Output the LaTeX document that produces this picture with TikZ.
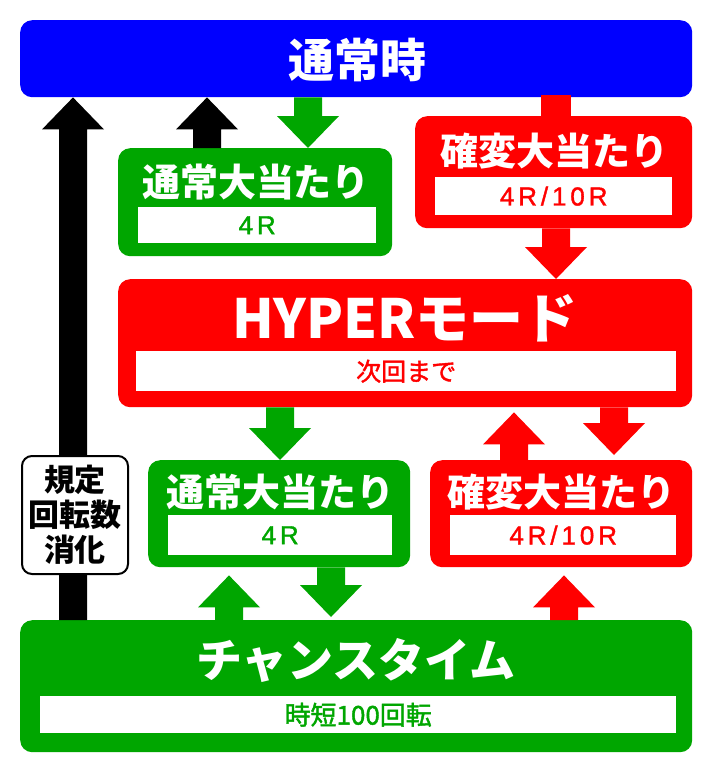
\documentclass[tikz,border=0pt]{standalone}
\usepackage{fontspec}
\setmainfont{Noto Sans CJK JP}
\newfontfamily\jp{Noto Sans CJK JP}
\newfontfamily\lat{Liberation Sans}
\usetikzlibrary{calc}
\definecolor{cblue}{RGB}{0,0,255}
\definecolor{cgreen}{RGB}{0,166,0}
\definecolor{cred}{RGB}{255,0,0}
\tikzset{
  panel/.style={rounded corners=12pt, inner sep=0pt, anchor=north west},
  inbox/.style={fill=white, inner sep=0pt, anchor=north west},
  title/.style={text=white, font=\jp\bfseries\fontsize{#1}{#1}\selectfont, inner sep=0pt},
  sub/.style={font=\jp\addfontfeature{FakeBold=1.6}\fontsize{#1}{#1}\selectfont, inner sep=0pt},
  subwide/.style={font=\lat\addfontfeature{FakeBold=1.4,LetterSpace=15}\fontsize{#1}{#1}\selectfont, inner sep=0pt},
}
% block arrow: colour, start, end (vertical)
\newcommand\barrow[3]{%
  \fill[#1] let \p1=#2, \p2=#3, \n1={sign(\y2-\y1)} in
    (\x1-14pt,\y1) -- (\x1-14pt,\y2-32pt*\n1) -- (\x1-31pt,\y2-32pt*\n1) -- (\x2,\y2)
    -- (\x1+31pt,\y2-32pt*\n1) -- (\x1+14pt,\y2-32pt*\n1) -- (\x1+14pt,\y1) -- cycle;}
\begin{document}
\begin{tikzpicture}[x=1pt,y=-1pt]
\useasboundingbox[fill=white] (0,0) rectangle (712,772);

% panels
\node[panel, fill=cblue, minimum width=672pt, minimum height=77pt] (top) at (20,20) {};
\node[title=46] (toptxt) at (357,60) {通常時};

\node[panel, fill=cgreen, minimum width=274pt, minimum height=108pt] (g1) at (118,148) {};
\node[title=38] (g1t) at (256,182) {通常大当たり};
\node[inbox, minimum width=238pt, minimum height=36pt] (g1b) at (138,207) {};
\node[subwide=26, text=cgreen] (g1s) at (g1b.center) {4R};

\node[panel, fill=cred, minimum width=277pt, minimum height=112pt] (r1) at (415,116) {};
\node[title=38] (r1t) at (554,151) {確変大当たり};
\node[inbox, minimum width=237pt, minimum height=38pt] (r1b) at (435,177) {};
\node[subwide=26, text=cred] (r1s) at (r1b.center) {4R/10R};

\node[panel, fill=cred, minimum width=574pt, minimum height=128pt] (hy) at (118,279) {};
\node[title=54] (hyt) at (405,318) {HYPERモード};
\node[inbox, minimum width=540pt, minimum height=40pt] (hyb) at (136,351) {};
\node[sub=25, text=cred] (hys) at (hyb.center) {次回まで};

\node[panel, fill=cgreen, minimum width=262pt, minimum height=107pt] (g2) at (148,460) {};
\node[title=38] (g2t) at (280,492) {通常大当たり};
\node[inbox, minimum width=224pt, minimum height=40pt] (g2b) at (168,515) {};
\node[subwide=26, text=cgreen] (g2s) at (g2b.center) {4R};

\node[panel, fill=cred, minimum width=262pt, minimum height=107pt] (r2) at (430,460) {};
\node[title=38] (r2t) at (561,492) {確変大当たり};
\node[inbox, minimum width=226pt, minimum height=40pt] (r2b) at (450,515) {};
\node[subwide=26, text=cred] (r2s) at (r2b.center) {4R/10R};

\node[panel, fill=cgreen, minimum width=672pt, minimum height=132pt] (ct) at (20,620) {};
\node[title=46] (ctt) at (356,660) {チャンスタイム};
\node[inbox, minimum width=636pt, minimum height=37pt] (ctb) at (40,696) {};
\node[sub=26, text=cgreen] (cts) at (ctb.center) {時短100回転};

% black arrows
\barrow{black}{(ct.north -| 73,0)}{(top.south -| 73,0)}
\barrow{black}{(g1.north -| 207,0)}{(top.south -| 207,0)}
% sign box over the black shaft
\node[panel, draw=black, line width=2pt, fill=white, rounded corners=10pt,
      minimum width=106pt, minimum height=118pt] (sign) at (21,455) {};
\node[font=\jp\bfseries\fontsize{31}{35}\selectfont, align=center, inner sep=0pt] (signt)
  at (sign.center) {規定\\回転数\\消化};

% coloured arrows
\barrow{cgreen}{(top.south -| 308,0)}{(g1.north -| 308,0)}
\fill[cred] ($(top.south -| 556,0)+(-15,-2)$) rectangle ($(r1.north -| 556,0)+(15,2)$);
\barrow{cred}{(r1.south -| 556,0)}{(hy.north -| 556,0)}
\barrow{cgreen}{(hy.south -| 280,0)}{(g2.north -| 280,0)}
\barrow{cred}{(r2.north -| 514,0)}{($(hy.south -| 514,0)+(0,5)$)}
\barrow{cred}{(hy.south -| 614,0)}{($(r2.north -| 614,0)+(0,-5)$)}
\barrow{cgreen}{(ct.north -| 229,0)}{($(g2.south -| 229,0)+(0,8)$)}
\barrow{cgreen}{(g2.south -| 331,0)}{($(ct.north -| 331,0)+(0,-3)$)}
\barrow{cred}{(ct.north -| 564,0)}{($(r2.south -| 564,0)+(0,8)$)}
\end{tikzpicture}
\end{document}
